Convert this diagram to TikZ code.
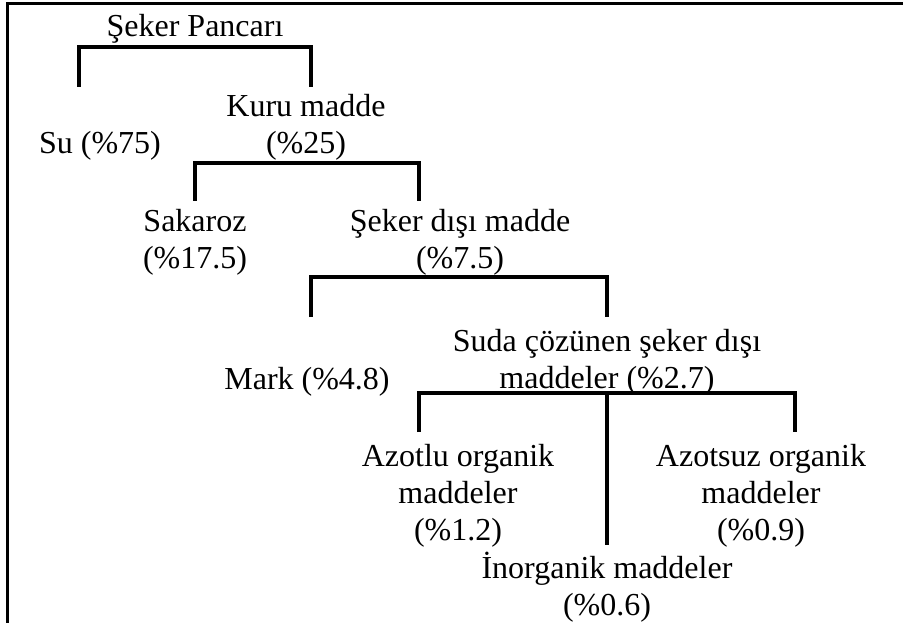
\documentclass[tikz,border=0pt]{standalone}
\usepackage{fontspec}
\setmainfont{Liberation Serif}
\newcommand{\mlines}[1]{\begin{tabular}[t]{@{}c@{}}#1\end{tabular}}
\begin{document}
\begin{tikzpicture}[x=1pt,y=-1pt,
  lbl/.style={anchor=base, inner sep=0pt, font=\fontsize{32}{37}\selectfont},
  conn/.style={line width=3.2pt, line join=miter},
  frame/.style={line width=3.2pt}]
\useasboundingbox (0,0) rectangle (903,623);
% frame
\coordinate (fbl) at (7.5,623);
\coordinate (ftl) at (7.5,3.3);
\coordinate (ftr) at (903,3.3);
\draw[frame] (fbl) -- (ftl) -- (ftr);
% labels
\node[lbl] (root) at (195,37) {Şeker Pancarı};
\node[lbl] (su) at (100,154) {Su (\%75)};
\node[lbl] (kuru) at (306,117) {\mlines{Kuru madde\\(\%25)}};
\node[lbl] (sak) at (195,231) {\mlines{Sakaroz\\(\%17.5)}};
\node[lbl] (sdm) at (460,231) {\mlines{Şeker dışı madde\\(\%7.5)}};
\node[lbl] (mark) at (307,389) {Mark (\%4.8)};
\node[lbl] (suda) at (607,351) {\mlines{Suda çözünen şeker dışı\\maddeler (\%2.7)}};
\node[lbl] (azl) at (458,466) {\mlines{Azotlu organik\\maddeler\\(\%1.2)}};
\node[lbl] (ino) at (607,578) {\mlines{İnorganik maddeler\\(\%0.6)}};
\node[lbl] (azs) at (761,466) {\mlines{Azotsuz organik\\maddeler\\(\%0.9)}};
% bracket 1: root -> su, kuru
\coordinate (b1a) at (79,87);  \coordinate (b1b) at (79,47);
\coordinate (b1c) at (311,47); \coordinate (b1d) at (311,87);
\draw[conn] (b1a) -- (b1b) -- (b1c) -- (b1d);
% bracket 2: kuru -> sakaroz, seker disi
\coordinate (b2a) at (195,201); \coordinate (b2b) at (195,163);
\coordinate (b2c) at (419,163); \coordinate (b2d) at (419,201);
\draw[conn] (b2a) -- (b2b) -- (b2c) -- (b2d);
% bracket 3: seker disi -> mark, suda
\coordinate (b3a) at (311,317); \coordinate (b3b) at (311,277);
\coordinate (b3c) at (607,277); \coordinate (b3d) at (607,317);
\draw[conn] (b3a) -- (b3b) -- (b3c) -- (b3d);
% bracket 4: suda -> azotlu, inorganik, azotsuz
\coordinate (b4a) at (419,432); \coordinate (b4b) at (419,393);
\coordinate (b4c) at (795,393); \coordinate (b4d) at (795,432);
\coordinate (b4m) at (607,393); \coordinate (b4n) at (607,545);
\draw[conn] (b4a) -- (b4b) -- (b4c) -- (b4d);
\draw[conn] (b4m) -- (b4n);
\end{tikzpicture}
\end{document}
